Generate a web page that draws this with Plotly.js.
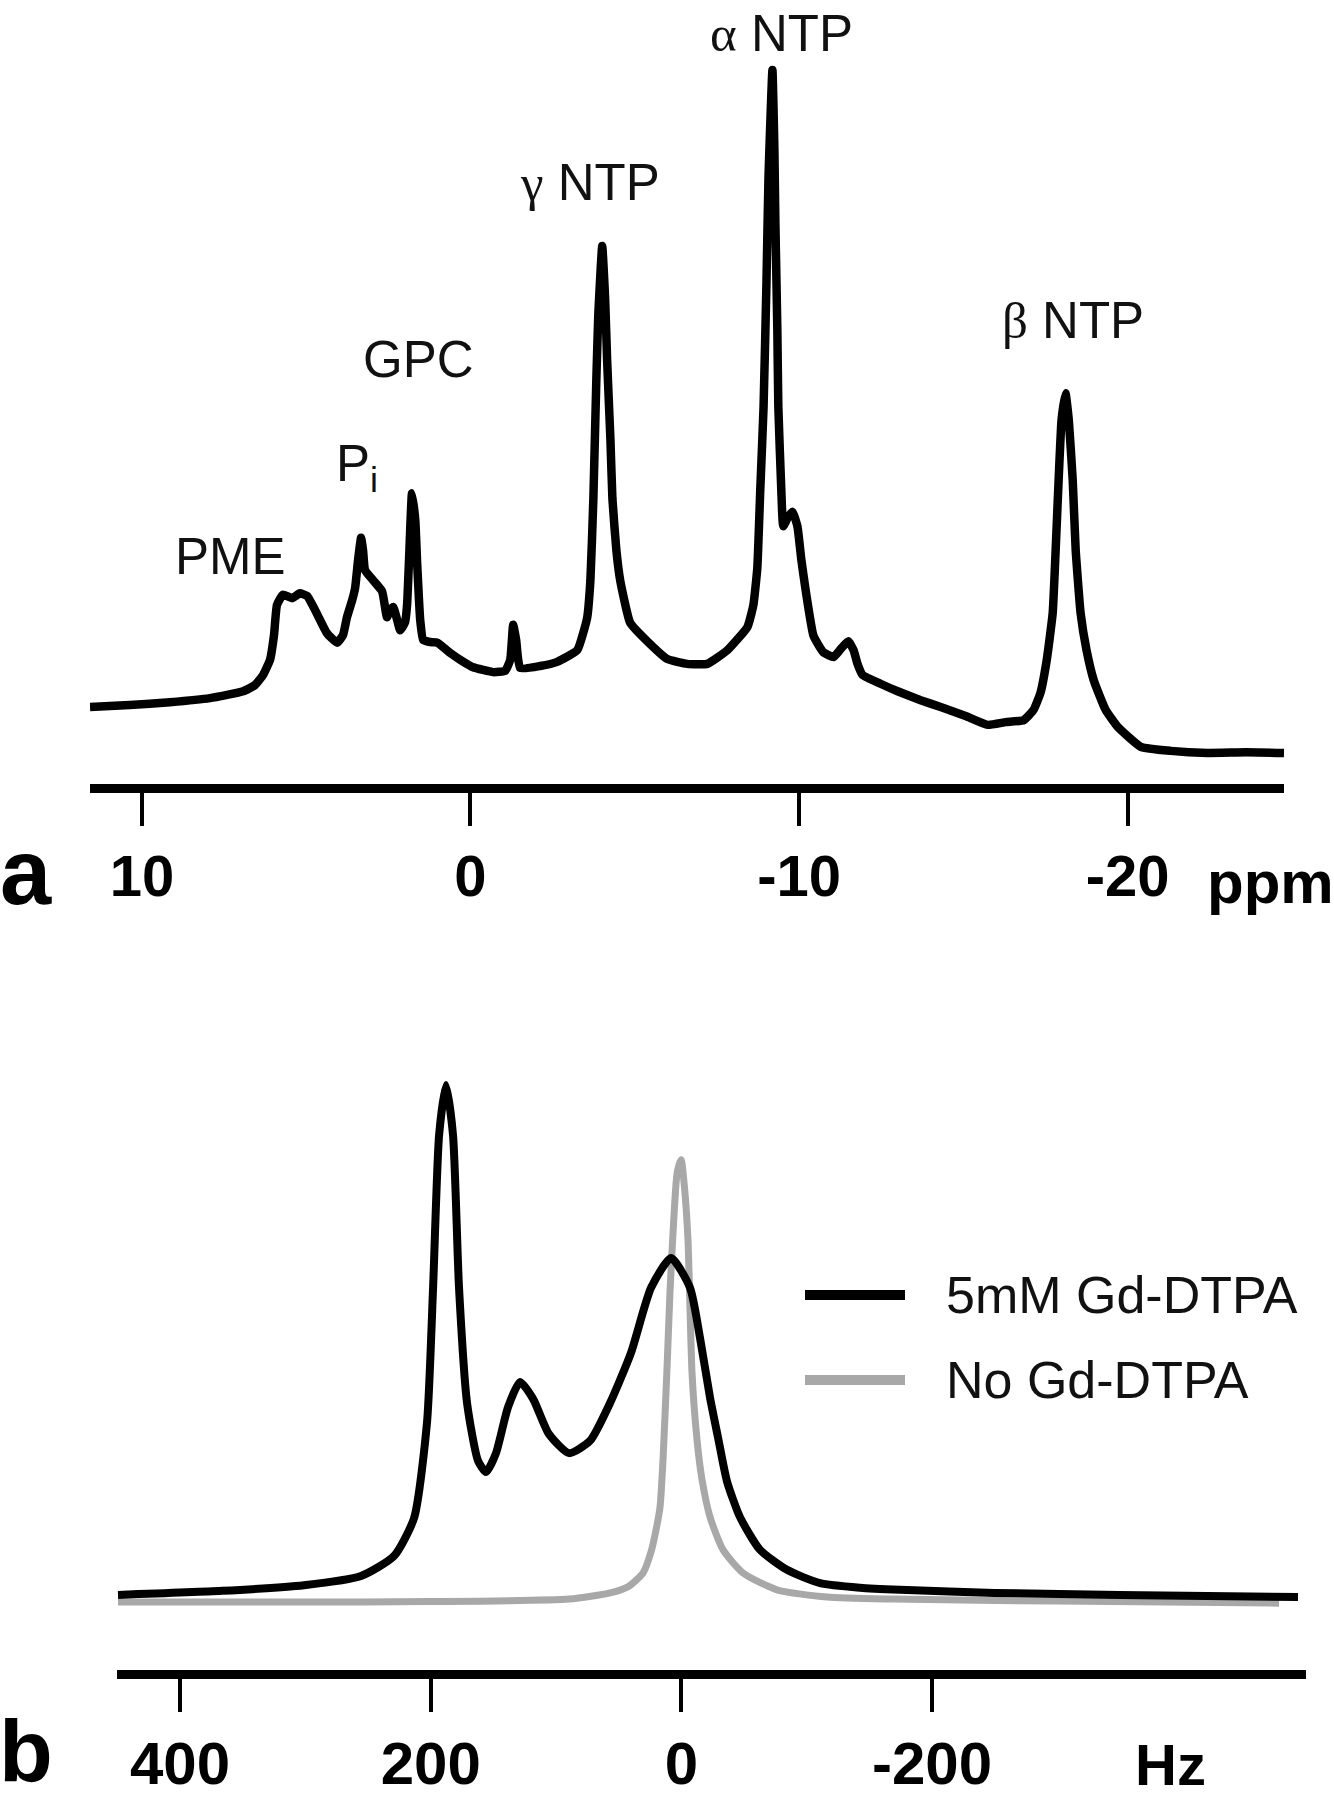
<!DOCTYPE html>
<html>
<head>
<meta charset="utf-8">
<script src="https://cdn.plot.ly/plotly-3.0.1.min.js"></script>
<style>
  html, body { margin: 0; padding: 0; background: #fff; }
  #chart { width: 1334px; height: 1800px; }
</style>
</head>
<body>
<div id="chart"></div>
<script>
// --- panel a: 31P spectrum (ppm vs arbitrary intensity, alpha NTP = 100) ---
const ppm31P = [11.58, 10.37, 9.15, 7.93, 6.92, 6.56, 6.31, 6.10, 5.98, 5.89,
  5.71, 5.43, 5.19, 4.97, 4.67, 4.37, 4.06, 3.88, 3.76, 3.60,
  3.51, 3.42, 3.33, 3.27, 3.21, 2.96, 2.69, 2.54, 2.45, 2.35,
  2.23, 2.14, 1.99, 1.93, 1.87, 1.78, 1.68, 1.62, 1.53, 1.44,
  1.23, 1.01, 0.62, 0.25, -0.08, -0.69, -1.06, -1.21, -1.30, -1.39,
  -1.51, -2.12, -2.64, -3.25, -3.55, -3.65, -3.74, -3.83, -3.89, -4.01,
  -4.10, -4.16, -4.26, -4.32, -4.44, -4.56, -4.86, -5.38, -5.99, -6.60,
  -7.21, -7.82, -8.43, -8.61, -8.73, -8.82, -8.92, -9.01, -9.07, -9.19,
  -9.25, -9.28, -9.34, -9.37, -9.46, -9.52, -9.65, -9.80, -9.95, -10.07,
  -10.20, -10.44, -10.74, -11.05, -11.29, -11.50, -11.66, -11.78, -11.93, -12.48,
  -13.00, -13.70, -14.31, -15.07, -15.74, -16.29, -16.84, -17.14, -17.35, -17.54,
  -17.72, -17.81, -17.90, -17.99, -18.11, -18.21, -18.33, -18.42, -18.57, -18.75,
  -18.97, -19.33, -19.70, -20.40, -21.31, -22.44, -23.60, -24.76];
const signal31P = [7.0, 7.3, 7.7, 8.3, 9.3, 10.2, 11.7, 13.9, 17.5, 21.9,
  23.4, 22.9, 23.6, 23.2, 20.6, 17.8, 16.4, 17.5, 20.1, 22.6,
  24.4, 28.5, 31.7, 29.9, 27.0, 25.5, 23.9, 20.1, 21.2, 21.6,
  19.7, 18.2, 19.4, 21.9, 28.5, 38.2, 34.3, 27.7, 19.7, 16.8,
  16.5, 16.4, 14.9, 13.7, 12.8, 12.1, 12.3, 13.9, 19.0, 16.8,
  12.7, 13.0, 13.6, 15.3, 20.0, 25.5, 37.4, 54.7, 64.2, 74.3,
  66.4, 57.5, 46.0, 37.4, 29.9, 25.4, 19.3, 16.6, 14.0, 13.3,
  13.3, 15.3, 18.7, 21.9, 27.3, 38.7, 50.8, 69.3, 84.2, 100.0,
  88.3, 77.7, 62.0, 50.8, 38.7, 33.4, 34.6, 35.5, 33.4, 28.5,
  24.1, 17.4, 15.0, 14.3, 15.6, 16.6, 15.3, 13.3, 11.7, 10.4,
  9.3, 8.0, 7.0, 5.7, 4.4, 4.8, 5.1, 6.6, 9.1, 13.9,
  20.7, 29.9, 40.1, 48.9, 52.8, 48.9, 40.1, 29.9, 20.7, 15.3,
  10.9, 6.6, 4.1, 1.2, 0.6, 0.3, 0.4, 0.3];

// peak labels: text, ppm, intensity
const peakLabels = ["PME", "P<sub>i</sub>", "GPC", "γ", "α", "β"];
const peakLabelPpm = [7.29, 3.45, 1.59, -3.65, -9.46, -18.33];
const peakLabelY = [29.0, 41.9, 57.7, 83.6, 105.4, 63.5];
const ppmTicks = [10, 0, -10, -20];
const ppmTickText = ["10", "0", "-10", "-20"];

// --- panel b: water line (Hz vs arbitrary intensity, tallest = 100) ---
const hzGd = [449.5, 366.5, 301.1, 255.6, 229.3, 213.3, 202.9, 198.1, 193.3, 187.8,
  182.2, 177.4, 171.0, 162.2, 155.8, 147.9, 138.3, 128.7, 118.3, 105.6,
  89.6, 72.9, 56.9, 40.2, 24.2, 8.2, -6.9, -14.9, -22.9, -29.3,
  -36.4, -46.8, -62.8, -84.3, -110.7, -142.6, -174.5, -250.0, -350.0, -492.0];
const signalGd = [0.4, 1.2, 2.3, 4.1, 8.0, 15.4, 34.2, 60.4, 90.2, 100.0,
  90.2, 60.4, 37.9, 26.6, 24.4, 28.1, 37.1, 42.0, 38.7, 31.8,
  28.1, 30.5, 37.9, 47.7, 60.4, 66.2, 60.4, 50.6, 38.9, 31.1,
  22.6, 15.6, 9.2, 5.3, 2.7, 1.8, 1.4, 0.8, 0.4, 0.0];

const hzNoGd = [449.5, 301.1, 202.9, 89.6, 56.9, 42.5, 30.6, 24.0, 19.5, 17.0,
  14.6, 11.4, 9.0, 6.0, 3.4, 0.2, -2.5, -5.3, -8.5, -12.5,
  -16.5, -22.9, -33.3, -49.2, -76.3, -116.2, -168.9, -300.0, -476.9];
const signalNoGd = [-1.0, -1.0, -0.9, -0.4, 0.8, 2.0, 4.7, 9.0, 14.0, 17.6,
  27.0, 45.0, 60.0, 74.0, 82.8, 85.4, 80.0, 69.7, 43.8, 30.7,
  22.9, 15.6, 9.2, 4.7, 1.4, 0.0, -0.4, -0.8, -1.2];

const seriesNames = ["5mM Gd-DTPA", "No Gd-DTPA"];
const seriesColors = ["#000000", "#a8a8a8"];
const hzTicks = [400, 200, 0, -200];
const hzTickText = ["400", "200", "0", "-200"];

const W = 1334, H = 1800;
const px = x => x / W;
const py = y => 1 - y / H;
const FONT = "Liberation Sans, Arial, sans-serif";
const SERIF = "Liberation Serif, Times New Roman, serif";
const INK = "#111111";

const traces = [
  {
    x: ppm31P, y: signal31P, xaxis: "x", yaxis: "y",
    type: "scatter", mode: "lines",
    line: {color: "#000", width: 8.5, shape: "spline", smoothing: 0.4},
    showlegend: false, hoverinfo: "skip"
  },
  {
    x: hzNoGd, y: signalNoGd, xaxis: "x2", yaxis: "y2",
    type: "scatter", mode: "lines", name: seriesNames[1],
    line: {color: seriesColors[1], width: 7, shape: "spline", smoothing: 0.6},
    showlegend: false, hoverinfo: "skip"
  },
  {
    x: hzGd, y: signalGd, xaxis: "x2", yaxis: "y2",
    type: "scatter", mode: "lines", name: seriesNames[0],
    line: {color: seriesColors[0], width: 8, shape: "spline", smoothing: 0.6},
    showlegend: false, hoverinfo: "skip"
  }
];

// shared axis look
const axisStyle = (tickvals, ticktext, size) => ({
  showline: true, linewidth: 9, linecolor: "#000",
  ticks: "outside", ticklen: 33, tickwidth: 4, tickcolor: "#000",
  tickvals: tickvals, ticktext: ticktext,
  tickfont: {family: FONT, size: size, weight: "bold", color: "#000"},
  showgrid: false, zeroline: false, fixedrange: true
});

// peak labels in data coordinates
const annotations = peakLabels.map((t, i) => {
  const greek = ["γ", "α", "β"].includes(t);
  return {
    xref: "x", yref: "y", x: peakLabelPpm[i], y: peakLabelY[i],
    text: greek ? `<span style="font-family:${SERIF}">${t}</span> NTP` : t,
    showarrow: false, xanchor: "center", yanchor: "middle",
    font: {family: FONT, size: 51, color: INK}
  };
});

// panel letters and units
annotations.push(
  {xref: "paper", yref: "paper", x: px(26), y: py(872), text: "a", showarrow: false,
   xanchor: "center", yanchor: "middle", font: {family: FONT, size: 92, weight: "bold", color: "#000"}},
  {xref: "paper", yref: "paper", x: px(26), y: py(1750), text: "b", showarrow: false,
   xanchor: "center", yanchor: "middle", font: {family: FONT, size: 88, weight: "bold", color: "#000"}},
  {xref: "paper", yref: "paper", x: px(1270), y: py(882), text: "ppm", showarrow: false,
   xanchor: "center", yanchor: "middle", font: {family: FONT, size: 60, weight: "bold", color: "#000"}},
  {xref: "paper", yref: "paper", x: px(1170), y: py(1764), text: "Hz", showarrow: false,
   xanchor: "center", yanchor: "middle", font: {family: FONT, size: 58, weight: "bold", color: "#000"}}
);

// legend for panel b (keys drawn as long strokes like the original)
const legendRowY = [1295, 1380];
const shapes = [];
seriesNames.forEach((name, i) => {
  shapes.push({
    type: "line", xref: "paper", yref: "paper",
    x0: px(805), x1: px(905), y0: py(legendRowY[i]), y1: py(legendRowY[i]),
    line: {color: seriesColors[i], width: 10}
  });
  annotations.push({
    xref: "paper", yref: "paper", x: px(944), y: py(legendRowY[i]),
    text: name, showarrow: false, xanchor: "left", yanchor: "middle",
    font: {family: FONT, size: 52, color: INK}
  });
});

const layout = {
  width: W, height: H,
  margin: {l: 0, r: 0, t: 0, b: 0},
  paper_bgcolor: "#fff", plot_bgcolor: "#fff",
  showlegend: false,
  xaxis: Object.assign(axisStyle(ppmTicks, ppmTickText, 58), {
    domain: [px(90), px(1284)], range: [11.58, -24.76], anchor: "y"
  }),
  yaxis: {
    domain: [py(784), 1], range: [(755 - 784) / 6.85, 755 / 6.85],
    visible: false, fixedrange: true, anchor: "x"
  },
  xaxis2: Object.assign(axisStyle(hzTicks, hzTickText, 60), {
    domain: [px(117), px(1306)], range: [450.3, -498.4], anchor: "y2"
  }),
  yaxis2: {
    domain: [py(1670), py(1040)], range: [(1597 - 1670) / 5.12, (1597 - 1040) / 5.12],
    visible: false, fixedrange: true, anchor: "x2"
  },
  annotations: annotations,
  shapes: shapes
};

Plotly.newPlot("chart", traces, layout, {staticPlot: true, displayModeBar: false});
</script>
</body>
</html>
